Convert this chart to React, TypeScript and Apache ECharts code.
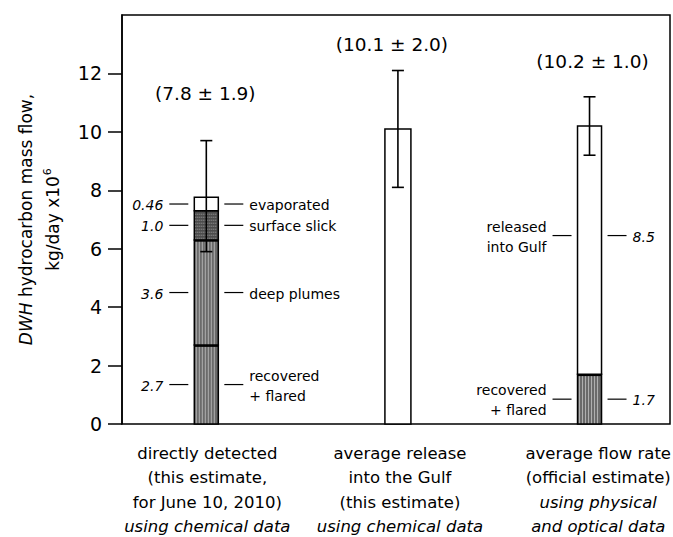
import React, { useEffect, useRef } from 'react';
import * as echarts from 'echarts';

// ---------- data ----------
const barPositions = [1, 2, 3];
const recoveredFlared = [2.7, 0, 1.7];
const deepPlumes = [3.6, 0, 0];
const surfaceSlick = [1.0, 0, 0];
const evaporated = [0.46, 0, 0];
const releasedIntoGulf = [0, 10.1, 8.5];
const totals = [7.8, 10.1, 10.2];
const uncertainty = [1.9, 2.0, 1.0];
const yTickValues = [0, 2, 4, 6, 8, 10, 12];
const categoryLines = [
  ['directly detected', '(this estimate,', 'for June 10, 2010)', 'using chemical data'],
  ['average release', 'into the Gulf', '(this estimate)', 'using chemical data'],
  ['average flow rate', '(official estimate)', 'using physical', 'and optical data'],
];
const italicFromLine = [3, 3, 2];

// ---------- layout / style ----------
const FONT = '"DejaVu Sans", Verdana, sans-serif';
const CAT_SIZE = 16.5;
const barWidths = [24, 26, 24];
const summaryLabelAt = [11.3, 13.0, 12.4];
const summaryLabelShift = [-1, -6, 3];
const categoryLabelShift = [1, 2, 20];
const namesOnRight = [true, true, false];
const labelAnchorOverride: Record<string, number> = { 'released\ninto Gulf': 6.45 };

const layers = [
  { values: recoveredFlared, kind: 'stripes', name: 'recovered\n+ flared' },
  { values: deepPlumes, kind: 'stripes', name: 'deep plumes' },
  { values: surfaceSlick, kind: 'stipple', name: 'surface slick' },
  { values: evaporated, kind: 'white', name: 'evaporated' },
  { values: releasedIntoGulf, kind: 'white', name: 'released\ninto Gulf' },
];

type Seg = { bar: number; bottom: number; top: number; kind: string; name: string; value: number; thickTop: boolean };
const segments: Seg[] = [];
barPositions.forEach((_, i) => {
  let cum = 0;
  const list: Seg[] = [];
  layers.forEach((l) => {
    const v = l.values[i];
    if (v > 0) {
      list.push({ bar: i, bottom: cum, top: cum + v, kind: l.kind, name: l.name, value: v, thickTop: false });
      cum += v;
    }
  });
  list.forEach((s, k) => {
    s.thickTop = s.kind === 'stripes' && k < list.length - 1;
  });
  segments.push(...list);
});

type Ann = { bar: number; y: number; text: string; right: boolean; italic: boolean };
const annotations: Ann[] = [];
barPositions.forEach((_, i) => {
  const segs = segments.filter((s) => s.bar === i);
  if (segs.length < 2) return;
  segs.forEach((s) => {
    const y = labelAnchorOverride[s.name] ?? (s.bottom + s.top) / 2;
    const num = s.value.toFixed(s.value < 1 ? 2 : 1);
    annotations.push({ bar: i, y, text: s.name, right: namesOnRight[i], italic: false });
    annotations.push({ bar: i, y, text: num, right: !namesOnRight[i], italic: true });
  });
});

function measure(text: string, font: string): number {
  const c = document.createElement('canvas');
  const ctx = c.getContext('2d');
  if (!ctx) return text.length * 9;
  ctx.font = font;
  return ctx.measureText(text).width;
}

export default function App() {
  const ref = useRef<HTMLDivElement>(null);
  useEffect(() => {
    if (!ref.current) return;
    const chart = echarts.init(ref.current, undefined, { renderer: 'svg' });
    const chartWidth = 673;

    const colWidths = categoryLines.map((lines, i) =>
      Math.max(
        ...lines.map((l, k) =>
          measure(l, `${k >= italicFromLine[i] ? 'italic ' : ''}${CAT_SIZE}px "DejaVu Sans"`)
        )
      )
    );

    const segRender = (params: any, api: any) => {
      const s = segments[params.dataIndex];
      const p0 = api.coord([api.value(0), api.value(1)]);
      const p1 = api.coord([api.value(0), api.value(2)]);
      const w = barWidths[s.bar];
      const x0 = p0[0] - w / 2;
      const yTop = p1[1];
      const h = p0[1] - p1[1];
      const children: any[] = [];
      const base = s.kind === 'stripes' ? '#6a6a6a' : s.kind === 'stipple' ? '#4c4c4c' : '#ffffff';
      children.push({ type: 'rect', shape: { x: x0, y: yTop, width: w, height: h }, style: { fill: base } });
      if (s.kind === 'stripes') {
        for (let x = x0 + 2; x < x0 + w - 1; x += 3) {
          children.push({ type: 'line', shape: { x1: x, y1: yTop, x2: x, y2: yTop + h }, style: { stroke: '#b0b0b0', lineWidth: 1 } });
        }
      } else if (s.kind === 'stipple') {
        for (let x = x0 + 1.5; x < x0 + w - 1; x += 2) {
          children.push({ type: 'line', shape: { x1: x, y1: yTop, x2: x, y2: yTop + h }, style: { stroke: '#a0a0a0', lineWidth: 1, lineDash: [1, 2] } });
        }
      }
      children.push({ type: 'rect', shape: { x: x0, y: yTop, width: w, height: h }, style: { fill: 'none', stroke: '#000', lineWidth: 1.5 } });
      if (s.thickTop) {
        children.push({ type: 'line', shape: { x1: x0, y1: yTop, x2: x0 + w, y2: yTop }, style: { stroke: '#000', lineWidth: 3.5 } });
      }
      return { type: 'group', children };
    };

    const errRender = (params: any, api: any) => {
      const lo = api.coord([api.value(0), api.value(1)]);
      const hi = api.coord([api.value(0), api.value(2)]);
      const cap = 6;
      const st = { stroke: '#000', lineWidth: 1.6 };
      return {
        type: 'group',
        children: [
          { type: 'line', shape: { x1: lo[0], y1: lo[1], x2: hi[0], y2: hi[1] }, style: st },
          { type: 'line', shape: { x1: lo[0] - cap, y1: lo[1], x2: lo[0] + cap, y2: lo[1] }, style: st },
          { type: 'line', shape: { x1: hi[0] - cap, y1: hi[1], x2: hi[0] + cap, y2: hi[1] }, style: st },
        ],
      };
    };

    const annRender = (params: any, api: any) => {
      const a = annotations[params.dataIndex];
      const c = api.coord([api.value(0), api.value(1)]);
      const w = barWidths[a.bar];
      const dash = 19;
      const gap = 6;
      const edge = a.right ? c[0] + w / 2 : c[0] - w / 2;
      const sgn = a.right ? 1 : -1;
      const d1 = edge + sgn * gap;
      const d2 = edge + sgn * (gap + dash);
      const tx = edge + sgn * (gap + dash + 6);
      return {
        type: 'group',
        children: [
          { type: 'line', shape: { x1: d1, y1: c[1], x2: d2, y2: c[1] }, style: { stroke: '#000', lineWidth: 1.2 } },
          {
            type: 'text',
            x: tx,
            y: c[1] + 1,
            style: {
              text: a.text,
              fill: '#000',
              fontSize: 14,
              fontFamily: FONT,
              fontStyle: a.italic ? 'italic' : 'normal',
              align: a.right ? 'left' : 'right',
              textAlign: a.right ? 'left' : 'right',
              verticalAlign: 'middle',
              textVerticalAlign: 'middle',
              lineHeight: 20,
            },
          },
        ],
      };
    };

    const labelRender = (params: any, api: any) => {
      const i = params.dataIndex;
      const top = api.coord([api.value(0), api.value(1)]);
      const base = api.coord([api.value(0), 0]);
      const children: any[] = [
        {
          type: 'text',
          x: top[0] + summaryLabelShift[i],
          y: top[1],
          style: {
            text: `(${totals[i].toFixed(1)} ± ${uncertainty[i].toFixed(1)})`,
            fill: '#000',
            fontSize: 18.5,
            fontFamily: FONT,
            align: 'center',
            textAlign: 'center',
            verticalAlign: 'middle',
            textVerticalAlign: 'middle',
          },
        },
      ];
      let cx = base[0] + categoryLabelShift[i];
      cx = Math.min(cx, chartWidth - 2 - colWidths[i] / 2);
      categoryLines[i].forEach((line, k) => {
        children.push({
          type: 'text',
          x: cx,
          y: base[1] + 29 + k * 24.5,
          style: {
            text: line,
            fill: '#000',
            fontSize: CAT_SIZE,
            fontFamily: FONT,
            fontStyle: k >= italicFromLine[i] ? 'italic' : 'normal',
            align: 'center',
            textAlign: 'center',
            verticalAlign: 'middle',
            textVerticalAlign: 'middle',
          },
        });
      });
      return { type: 'group', children };
    };

    chart.setOption({
      animation: false,
      backgroundColor: '#ffffff',
      grid: { left: 122, right: 3, top: 15, bottom: 113, show: true, borderColor: '#000', borderWidth: 1.5, backgroundColor: 'transparent' },
      xAxis: { type: 'value', min: 0.56, max: 3.42, show: false },
      yAxis: {
        type: 'value',
        min: 0,
        max: 14,
        interval: 2,
        axisLine: { show: true, lineStyle: { color: '#000', width: 1.5 } },
        axisTick: { show: true, inside: false, length: 14, lineStyle: { color: '#000', width: 1.5 }, customValues: yTickValues },
        axisLabel: {
          customValues: yTickValues,
          color: '#000',
          fontSize: 19,
          fontFamily: FONT,
          margin: 20,
          formatter: (v: number) => (yTickValues.includes(v) ? String(v) : ''),
        },
        splitLine: { show: false },
        name: '{i|DWH} hydrocarbon mass flow,\nkg/day x10{s|6}',
        nameLocation: 'middle',
        nameGap: 52,
        nameTextStyle: {
          color: '#000',
          fontSize: 17,
          fontFamily: FONT,
          lineHeight: 27,
          rich: {
            i: { fontStyle: 'italic', fontSize: 17, fontFamily: FONT, color: '#000' },
            s: { fontSize: 11, fontFamily: FONT, color: '#000', padding: [0, 0, 11, 1] },
          },
        },
      },
      series: [
        {
          type: 'custom',
          clip: false,
          renderItem: segRender,
          encode: { x: 0, y: [1, 2] },
          data: segments.map((s) => [barPositions[s.bar], s.bottom, s.top]),
          z: 2,
        },
        {
          type: 'custom',
          clip: false,
          renderItem: errRender,
          encode: { x: 0, y: [1, 2] },
          data: barPositions.map((p, i) => [p, totals[i] - uncertainty[i], totals[i] + uncertainty[i]]),
          z: 3,
        },
        {
          type: 'custom',
          clip: false,
          renderItem: annRender,
          encode: { x: 0, y: 1 },
          data: annotations.map((a) => [barPositions[a.bar], a.y]),
          z: 4,
        },
        {
          type: 'custom',
          clip: false,
          renderItem: labelRender,
          encode: { x: 0, y: 1 },
          data: barPositions.map((p, i) => [p, summaryLabelAt[i]]),
          z: 4,
        },
      ],
    });
    return () => chart.dispose();
  }, []);
  return <div ref={ref} style={{ position: 'fixed', left: 0, top: 0, width: 673, height: 537 }} />;
}
